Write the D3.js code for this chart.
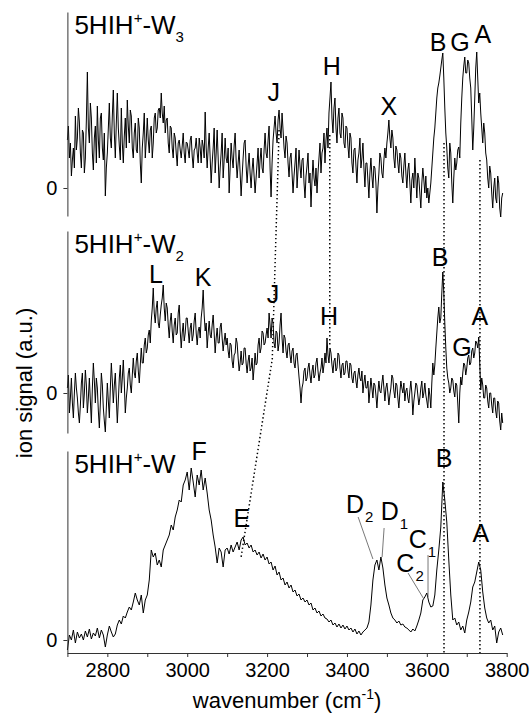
<!DOCTYPE html>
<html>
<head>
<meta charset="utf-8">
<script src="https://cdn.jsdelivr.net/npm/d3@7"></script>
<style>
  body { margin: 0; background: #fff; }
  svg text { font-family: "Liberation Sans", Arial, sans-serif; fill: #000; }
</style>
</head>
<body>
<svg id="chart" width="531" height="714"></svg>
<script>
'use strict';

// sampling grids of the spectra (cm-1): W2/W3 scans are finer than the W scan
var wnFine = d3.range(2700, 3791, 2.5);
var wnCoarse = d3.range(2700, 3791, 5);

/** ion signal, arbitrary units, one row per 50 cm-1 */
var w3Signal = [
    48, 62, 30, 45, 12, 28, 40, 20, 72, 38, 50, 80, 66, 35, 20, 58, 55, 15, 30, 68,
    116, 60, 45, 85, 70, 35, 18, 50, 62, 25, 82, 48, 30, 70, 75, 40, 28, 55, -8, 20,
    35, 60, 85, 50, 40, 72, 98, 55, 30, 65, 95, 60, 42, 28, 80, 45, 25, 52, 70, 40,
    88, 62, 45, 78, 72, 40, 30, 55, 65, 38, 35, 70, 60, 25, 5, 40, 55, 75, 30, 48,
    70, 48, 35, 58, 62, 30, 45, 70, 75, 55, 60, 78, 80, 70, 95, 75, 65, 82, 55, 68,
    70, 45, 35, 62, 60, 40, 30, 55, 50, 35, 22, 45, 48, 38, 30, 42, 55, 35, 25, 46,
    45, 38, 30, 48, 52, 32, 20, 38, 40, 50, 35, 25, 50, 40, 25, 48, 42, 30, 76, 40,
    20, 40, 55, 30, 5, 25, 40, 60, 15, 35, 58, 30, 0, 20, 35, 55, 10, 28, 50, 30,
    25, 40, -5, 20, 45, 30, 20, 42, 55, 28, 10, 25, 38, 15, -8, 12, 30, 45, 48, 22,
    5, 22, 35, 15, 0, 18, 30, 12, -5, 10, 25, 40, 10, 28, 40, 20, 15, 38, 55, 35,
    30, 48, 62, 20, -9, 25, 48, 60, 72, 55, 45, 68, 78, 60, 50, 75, 58, 40, 30, 52,
    45, 25, 11, 30, 35, 15, -5, 12, 25, 40, 0, 18, 38, 22, 10, 28, 30, 5, -10, 12,
    22, 35, 5, 15, -19, 8, 28, 10, 2, 20, -5, 15, 30, 45, 15, 35, 40, 55, 25, 48,
    60, 40, 75, 90, 106, 70, 55, 80, 90, 60, 45, 70, 80, 55, 50, 75, 70, 45, 40, 62,
    60, 42, 30, 55, 50, 25, 15, 38, 40, 22, 5, 28, 35, 50, 20, 30, 45, 20, 1, 25,
    25, 8, -10, 15, 30, 12, 0, 22, 20, 5, -25, 0, 15, 35, 30, 15, 10, 28, 40, 30,
    45, 55, 68, 50, 40, 58, 50, 30, 20, 42, 38, 25, 15, 35, 30, 12, 5, 22, 35, 15,
    0, 18, 25, 5, -15, 8, 15, 0, 30, 10, -10, 15, 10, -5, -20, 5, 20, 8, -5, 12,
    -10, 0, -15, -5, 5, 20, 35, 50, 60, 75, 90, 100, 105, 112, 120, 128, 135, 110, 80, 55,
    40, 20, 10, 45, 35, 5, -15, 10, 30, 18, 25, 38, 41, 30, 65, 90, 110, 122, 131, 115,
    115, 128, 125, 110, 100, 70, 38, 60, 90, 120, 136, 110, 85, 95, 75, 60, 45, 65, 55, 35,
    28, 10, 0, 22, 15, -5, -20, 0, 10, -10, -15, 12, 5, -20, -29, -10, -5
];

var w2Signal = [
    5, 18, -20, -5, 15, -10, -25, 0, 20, 5, -5, -20, -30, -12, 10, 20, -15, 0, 23, 8,
    -20, -5, 15, -8, -30, 5, 30, 12, -10, 15, 5, -18, -35, -10, 20, 8, -15, -28, -39, -15,
    10, -8, -25, 5, 30, 12, -10, 8, 20, -5, -30, -8, 15, 28, 0, 15, 33, 10, -20, -5,
    5, 20, 25, 8, 0, 18, 35, 20, 15, 32, 40, 22, 10, 28, 45, 30, 30, 48, 55, 40,
    45, 58, 63, 50, 72, 85, 105, 80, 70, 85, 92, 70, 65, 78, 88, 95, 108, 85, 72, 90,
    85, 68, 55, 72, 80, 62, 50, 68, 75, 58, 60, 80, 88, 62, 45, 60, 70, 52, 60, 75,
    75, 62, 50, 65, 70, 52, 58, 72, 80, 60, 48, 62, 66, 55, 75, 85, 103, 78, 62, 70,
    45, 60, 72, 58, 55, 68, 78, 60, 40, 55, 65, 50, 50, 66, 70, 55, 42, 52, 60, 48,
    55, 42, 35, 50, 48, 32, 25, 38, 40, 55, 50, 35, 22, 30, 42, 28, 30, 45, 45, 30,
    20, 32, 38, 22, 25, 35, 13, 25, 40, 28, 30, 48, 55, 40, 45, 62, 60, 48, 50, 58,
    65, 55, 80, 68, 55, 75, 70, 50, 45, 62, 60, 42, 50, 68, 80, 55, 40, 58, 55, 42,
    35, 48, 50, 38, 30, 42, 45, 30, 25, 38, 40, 28, 16, 5, -10, 5, 10, 22, 25, 12,
    15, 25, 30, 18, 10, 22, 28, 15, 18, 30, 35, 22, 12, 20, 25, 35, 20, 28, 40, 30,
    55, 38, 30, 45, 40, 28, 20, 32, 35, 22, 25, 40, 38, 25, 15, 28, 30, 18, 20, 32,
    32, 22, 15, 30, 28, 15, 10, 20, 22, 12, 5, 18, 25, 15, 12, 22, 0, 10, 18, 5,
    5, 12, -10, 2, 15, 5, -5, 10, 8, -2, -15, 0, 12, 2, 0, 10, 18, 5, -8, 5,
    10, 0, -12, -2, 5, 18, 15, 2, -5, 10, 8, -5, -15, 0, 12, 5, 0, 10, -8, 2,
    5, -5, -10, 2, 12, 0, -22, -8, 0, 10, 8, -2, -12, -5, 5, 12, -5, 0, 10, -2,
    -8, -15, 5, -2, -15, 10, 30, 18, 28, 45, 60, 75, 86, 70, 75, 100, 121, 100, 70, 45,
    25, 15, 10, 0, 5, 15, 13, 2, -4, 10, 8, -10, -30, 0, 16, 8, 20, 30, 28, 18,
    25, 35, 38, 28, 30, 42, 45, 35, 40, 52, 50, 45, 56, 30, 3, 15, 8, -5, -5, 8,
    5, -8, -15, 0, 0, -12, -20, -5, -5, -18, -25, -8, -10, -28, -37, -20, -30
];

var w1Signal = [
    -10, 5, 0, 10, -3, 8, 2, 6, 0, 9,
    3, 11, 1, 7, 4, 12, 2, 10, 5, -7,
    5, 14, 8, 3, 6, 15, 20, 16, 24, 22,
    28, 33, 30, 38, 47, 40, 35, 45, 27, 40,
    45, 60, 90, 83, 87, 75, 80, 73, 90, 95,
    100, 105, 115, 110, 123, 130, 140, 138, 155, 160,
    168, 150, 172, 158, 143, 165, 155, 170, 150, 162,
    147, 130, 120, 105, 93, 77, 92, 88, 73, 90,
    92, 86, 95, 88, 93, 98, 90, 100, 103, 95,
    97, 92, 95, 88, 90, 85, 88, 82, 86, 80,
    83, 76, 78, 70, 74, 65, 68, 60, 62, 55,
    58, 52, 55, 48, 50, 44, 46, 40, 42, 38,
    40, 35, 37, 30, 32, 27, 29, 24, 26, 22,
    21, 18, 20, 15, 17, 13, 16, 12, 15, 11,
    14, 10, 12, 8, 11, 6, 9, 5, 8, 10,
    12, 18, 35, 60, 75, 80, 70, 83, 72, 55,
    42, 35, 27, 22, 20, 17, 19, 15, 16, 13,
    12, 10, 8, 11, 9, 14, 20, 27, 40, 43,
    47, 38, 33, 34, 45, 70, 90, 113, 158, 140,
    118, 80, 45, 20, 22, 15, 18, 10, 14, 7,
    20, 28, 38, 53, 58, 68, 78, 70, 48, 32,
    22, 17, 20, 10, 14, -3, 8, 12, 5
];

var xTicks = d3.range(2700, 3801, 100);
var xTickLabels = [2800, 3000, 3200, 3400, 3600, 3800];

// peak labels: [letter, wavenumber, signal, subscript]
var w3Labels = [['J', 3217, 87], ['H', 3362, 113], ['X', 3505, 73], ['B', 3628, 137], ['G', 3683, 137], ['A', 3740, 145]];
var w2Labels = [['L', 2922, 110], ['K', 3040, 107], ['J', 3215, 90], ['H', 3355, 68], ['B', 3633, 127], ['G', 3688, 37], ['A', 3733, 68]];
var w1Labels = [['F', 3030, 180], ['E', 3137, 113], ['D', 3432, 127, '2'], ['D', 3519, 120, '1'],
    ['C', 3589, 92, '1'], ['C', 3558, 68, '2'], ['B', 3643, 173], ['A', 3735, 98]];

// leader lines in the W panel: [wn1, s1, wn2, s2]
var w1Leaders = [[3428, 123, 3465, 81], [3493, 112, 3488, 83], [3553, 67, 3591, 42], [3603, 85, 3603, 43]];

// dotted correlation lines: [panel, wavenumber, signal]
var guides = [
    [[0, 3230, 58], [1, 3213, 34], [2, 3135, 83]],
    [[0, 3357, 53], [1, 3357, 46]],
    [[0, 3643, 45], [2, 3643, -13]],
    [[0, 3733, 28], [2, 3733, -13]]
];

var panels = [
    { sub: '3', wn: wnFine, data: w3Signal, labels: w3Labels, top: 12, bottom: 216, domain: [-28, 176] },
    { sub: '2', wn: wnFine, data: w2Signal, labels: w2Labels, top: 231, bottom: 433, domain: [-40, 162] },
    { sub: '', wn: wnCoarse, data: w1Signal, labels: w1Labels, top: 451, bottom: 653, domain: [-13, 189] }
];

var svg = d3.select('#chart');

var x = d3.scaleLinear().domain([2700, 3800]).range([67.4, 506.7]);

panels.forEach(function(p) {
    p.y = d3.scaleLinear().domain(p.domain).range([p.bottom, p.top]);
});

/** DOTTED GUIDES (behind the traces) */
svg.selectAll('path.guide')
    .data(guides)
    .enter()
    .append('path')
    .attr('class', 'guide')
    .attr('d', d3.line()
        .x(function(d) { return x(d[1]); })
        .y(function(d) { return panels[d[0]].y(d[2]); }))
    .attr('fill', 'none')
    .attr('stroke', '#000')
    .attr('stroke-width', 1.5)
    .attr('stroke-dasharray', '1.4,2.6');

panels.forEach(function(p, pi) {
    var g = svg.append('g');

    // trace
    g.append('path')
        .datum(p.data)
        .attr('d', d3.line()
            .x(function(d, i) { return x(p.wn[i]); })
            .y(function(d) { return p.y(d); }))
        .attr('fill', 'none')
        .attr('stroke', '#000')
        .attr('stroke-width', 1)
        .attr('stroke-linejoin', 'round');

    // y axis with the single zero tick
    var ya = g.append('g')
        .attr('transform', 'translate(' + x.range()[0] + ',0)')
        .call(d3.axisLeft(p.y).tickValues([0]).tickSize(4).tickSizeOuter(0).tickPadding(6));
    ya.selectAll('path, line').attr('stroke', '#333');
    ya.selectAll('text').style('font-size', '20px').attr('font-family', null);

    // panel title 5HIH+-Wn
    var title = g.append('text')
        .attr('x', x.range()[0] + 7)
        .attr('y', p.top + 22)
        .style('font-size', '26px');
    title.append('tspan').text('5HIH');
    title.append('tspan').text('+').style('font-size', '15px').attr('dy', -11);
    title.append('tspan').text('-W').attr('dy', 11);
    if (p.sub) {
        title.append('tspan').text(p.sub).style('font-size', '15px').attr('dy', 8);
    }

    // peak letters
    var lab = g.selectAll('text.peak')
        .data(p.labels)
        .enter()
        .append('text')
        .attr('class', 'peak')
        .attr('x', function(d) { return x(d[1]); })
        .attr('y', function(d) { return p.y(d[2]); })
        .attr('text-anchor', 'middle')
        .style('font-size', '25px');
    lab.append('tspan').text(function(d) { return d[0]; });
    lab.filter(function(d) { return d[3]; })
        .append('tspan')
        .text(function(d) { return d[3]; })
        .style('font-size', '15px')
        .attr('dx', 1)
        .attr('dy', 9);

    if (pi === 2) {
        g.selectAll('line.leader')
            .data(w1Leaders)
            .enter()
            .append('line')
            .attr('class', 'leader')
            .attr('x1', function(d) { return x(d[0]); })
            .attr('y1', function(d) { return p.y(d[1]); })
            .attr('x2', function(d) { return x(d[2]); })
            .attr('y2', function(d) { return p.y(d[3]); })
            .attr('stroke', '#555')
            .attr('stroke-width', 0.8);
    }
});

/** BOTTOM X AXIS */
var bottomPanel = panels[2];
var xa = svg.append('g')
    .attr('transform', 'translate(0,' + bottomPanel.bottom + ')')
    .call(d3.axisBottom(x)
        .tickValues(xTicks)
        .tickSize(4)
        .tickSizeOuter(0)
        .tickPadding(6)
        .tickFormat(function(d) { return xTickLabels.indexOf(d) >= 0 ? d : ''; }));
xa.selectAll('path, line').attr('stroke', '#333');
xa.selectAll('text').style('font-size', '20px').attr('font-family', null);

var xt = svg.append('text')
    .attr('x', (x.range()[0] + x.range()[1]) / 2)
    .attr('y', 708)
    .attr('text-anchor', 'middle')
    .style('font-size', '22px');
xt.append('tspan').text('wavenumber (cm');
xt.append('tspan').text('-1').style('font-size', '14px').attr('dy', -9);
xt.append('tspan').text(')').attr('dy', 9);

svg.append('text')
    .attr('transform', 'translate(32,383) rotate(-90)')
    .attr('text-anchor', 'middle')
    .style('font-size', '22px')
    .text('ion signal (a.u.)');
</script>
</body>
</html>
